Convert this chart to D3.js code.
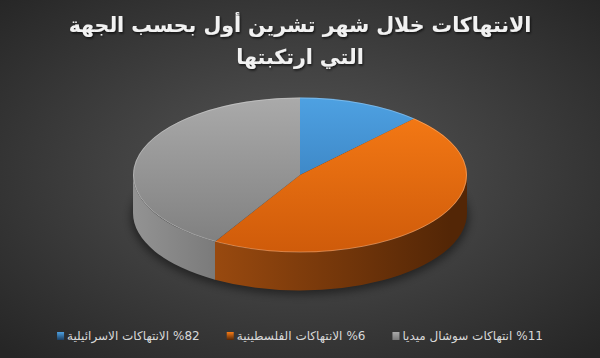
<!DOCTYPE html>
<html lang="ar">
<head>
  <meta charset="UTF-8">
  <title>Pie</title>
  <script src="https://d3js.org/d3.v7.min.js"></script>
  <style>
    body { margin: 0; background: #333; }
    svg { display: block; }
  </style>
</head>
<body>
  <div id="root"></div>
  <script>
    // data
    const titleLines = ['الانتهاكات خلال شهر تشرين أول بحسب الجهة', 'التي ارتكبتها'];
    const categories = ['الانتهاكات الاسرائيلية', 'الانتهاكات الفلسطينية', 'انتهاكات سوشال ميديا'];
    const legendPct = [82, 6, 11];
    const values = [12, 46.5, 41.5];
    const colors = [
      { top: ['#4ea1e2', '#2f71ae'], side: ['#2a5f92', '#1b3f63'] },
      { top: ['#f87c16', '#cf5b0a'], side: ['#98490f', '#532606'] },
      { top: ['#aaaaaa', '#7d7d7d'], side: ['#939393', '#7a7a7a'] }
    ];

    const W = 600, H = 358;
    const cx = 300, cy = 175, rx = 167, ry = 77.5, depth = 38;

    const svg = d3.select('#root').append('svg').attr('width', W).attr('height', H);
    const defs = svg.append('defs');

    const bg = defs.append('radialGradient').attr('id', 'bg')
      .attr('cx', '50%').attr('cy', '48%').attr('r', '70%');
    bg.append('stop').attr('offset', '0%').attr('stop-color', '#575757');
    bg.append('stop').attr('offset', '100%').attr('stop-color', '#262626');
    svg.append('rect').attr('width', W).attr('height', H).attr('fill', 'url(#bg)');

    const blur = defs.append('filter').attr('id', 'blur').attr('x', '-20%').attr('y', '-20%').attr('width', '140%').attr('height', '140%');
    blur.append('feGaussianBlur').attr('stdDeviation', 4);

    const tshadow = defs.append('filter').attr('id', 'tshadow');
    tshadow.append('feDropShadow').attr('dx', 1).attr('dy', 1.5).attr('stdDeviation', 1)
      .attr('flood-color', '#000').attr('flood-opacity', 0.7);

    colors.forEach((c, i) => {
      const gt = defs.append('linearGradient').attr('id', 'top' + i)
        .attr('gradientUnits', 'userSpaceOnUse')
        .attr('x1', 0).attr('y1', cy - ry).attr('x2', 0).attr('y2', cy + ry);
      gt.append('stop').attr('offset', 0).attr('stop-color', c.top[0]);
      gt.append('stop').attr('offset', 1).attr('stop-color', c.top[1]);
      const gs = defs.append('linearGradient').attr('id', 'side' + i)
        .attr('gradientUnits', 'userSpaceOnUse')
        .attr('x1', cx - rx).attr('y1', 0).attr('x2', cx + rx).attr('y2', 0);
      if (i === 2) {
        gs.append('stop').attr('offset', 0).attr('stop-color', c.side[0]);
        gs.append('stop').attr('offset', 0.25).attr('stop-color', c.side[1]);
      } else {
        gs.append('stop').attr('offset', 0.25).attr('stop-color', c.side[0]);
        gs.append('stop').attr('offset', 0.95).attr('stop-color', c.side[1]);
      }
      const gk = defs.append('linearGradient').attr('id', 'key' + i)
        .attr('x1', 0).attr('y1', 0).attr('x2', 0).attr('y2', 1);
      gk.append('stop').attr('offset', 0).attr('stop-color', c.top[0]);
      gk.append('stop').attr('offset', 1).attr('stop-color', c.side[1]);
    });

    const pie = d3.pie().sort(null).value(d => d).startAngle(0).endAngle(2 * Math.PI);
    const arcs = pie(values);

    const pt = (a, dy = 0) => [cx + rx * Math.sin(a), cy - ry * Math.cos(a) + dy];

    // shadow under the pie
    svg.append('ellipse').attr('cx', cx).attr('cy', cy + depth + 4)
      .attr('rx', rx + 2).attr('ry', ry).attr('fill', '#000').attr('opacity', 0.45)
      .attr('filter', 'url(#blur)');

    const gPie = svg.append('g');

    // front walls
    arcs.forEach((d, i) => {
      const a0 = Math.max(d.startAngle, Math.PI / 2);
      const a1 = Math.min(d.endAngle, 3 * Math.PI / 2);
      if (a1 <= a0) return;
      const p0 = pt(a0), p1 = pt(a1), b1 = pt(a1, depth), b0 = pt(a0, depth);
      const path = `M${p0} A${rx},${ry} 0 0 1 ${p1} L${b1} A${rx},${ry} 0 0 0 ${b0} Z`;
      gPie.append('path').attr('d', path).attr('fill', `url(#side${i})`);
    });

    // top faces
    arcs.forEach((d, i) => {
      const p0 = pt(d.startAngle), p1 = pt(d.endAngle);
      const large = d.endAngle - d.startAngle > Math.PI ? 1 : 0;
      const path = `M${cx},${cy} L${p0} A${rx},${ry} 0 ${large} 1 ${p1} Z`;
      gPie.append('path').attr('d', path).attr('fill', `url(#top${i})`);
    });

    // light rim along the top edge
    svg.append('ellipse').attr('cx', cx).attr('cy', cy).attr('rx', rx - 0.5).attr('ry', ry - 0.5)
      .attr('fill', 'none').attr('stroke', '#fff').attr('stroke-opacity', 0.25).attr('stroke-width', 1);

    // title
    svg.append('g').attr('filter', 'url(#tshadow)')
      .selectAll('text').data(titleLines).enter().append('text')
      .attr('x', W / 2).attr('y', (d, i) => 32 + i * 32)
      .attr('text-anchor', 'middle').attr('direction', 'rtl')
      .attr('font-family', 'DejaVu Sans').attr('font-weight', 'bold').attr('font-size', 20.5)
      .attr('fill', '#f2f2f2')
      .text(d => d);

    // legend, laid out left to right in data order
    const legend = svg.append('g').attr('font-family', 'DejaVu Sans').attr('font-size', 12).attr('fill', '#d9d9d9');
    const items = categories.map((c, i) => {
      const g = legend.append('g');
      g.append('rect').attr('width', 7).attr('height', 8).attr('y', -8)
        .attr('fill', `url(#key${i})`);
      const t = g.append('text').attr('direction', 'rtl').attr('text-anchor', 'start').text(c);
      const p = g.append('text').attr('direction', 'ltr').attr('text-anchor', 'start').text('%' + legendPct[i]);
      const tw = t.node().getComputedTextLength();
      const pw = p.node().getComputedTextLength();
      t.attr('x', 10 + tw);
      p.attr('x', 10 + tw + 4);
      return { g, w: 10 + tw + 4 + pw };
    });
    const gap = 27;
    const total = d3.sum(items, d => d.w) + gap * (items.length - 1);
    let x = W / 2 - total / 2;
    items.forEach(it => {
      it.g.attr('transform', `translate(${x},340)`);
      x += it.w + gap;
    });
  </script>
</body>
</html>
